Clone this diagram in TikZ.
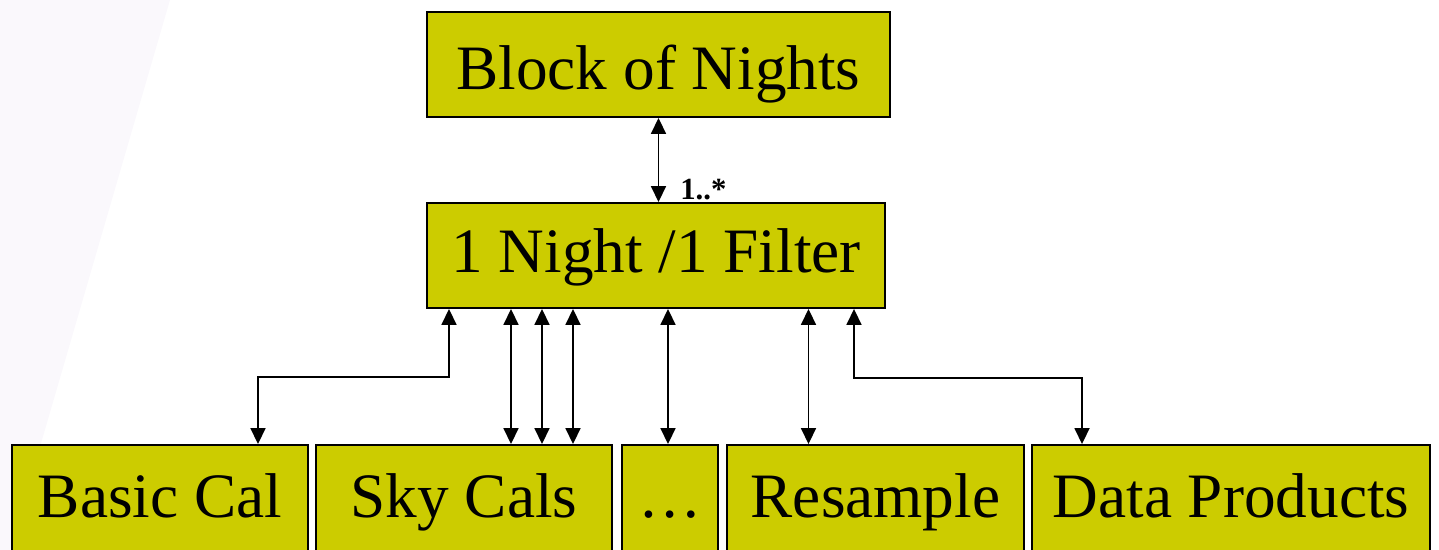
\documentclass[tikz,border=0pt]{standalone}
\usepackage{fontspec}
\setmainfont{Liberation Serif}
\usetikzlibrary{arrows.meta, positioning}
\definecolor{boxfill}{RGB}{204,204,0}
\definecolor{bgtint}{RGB}{250,248,252}
\tikzset{%
	stage/.style={
		draw,
		fill=boxfill,
		line width=1.1pt,
		minimum height=2.1cm,
		inner sep=0pt,
		text height=0.9cm,
		text depth=0.2cm,
		font=\fontsize{36}{40}\selectfont
	},
	link/.style={
		{Triangle[length=0.32cm,width=0.3cm]}-{Triangle[length=0.32cm,width=0.3cm]},
		line width=1pt
	},
}

\begin{document}
\begin{tikzpicture}[x=0.02cm, y=-0.02cm]
	\useasboundingbox (0,0) rectangle (1439,550);
	% faint backdrop
	\fill[bgtint] (0,0) -- (170,0) -- (10,550) -- (0,550) -- cycle;

	% Draw the two upper boxes
	\node[stage, minimum width=9.26cm, text height=1cm, text depth=0.01cm] (block) at (658.5,64.5) {Block of Nights};
	\node[stage, minimum width=9.16cm] (night) at (656,255.5) {1 Night /1 Filter};

	% Draw the row of steps
	\node[stage, minimum height=2.2cm, minimum width=5.92cm] (basic) at (160,500) {Basic Cal};
	\node[stage, minimum height=2.2cm, minimum width=5.92cm] (sky) at (464,500) {Sky Cals};
	\node[stage, minimum height=2.2cm, minimum width=1.92cm] (dots) at (670,500) {…};
	\node[stage, minimum height=2.2cm, minimum width=5.94cm] (resample) at (875.5,500) {Resample};
	\node[stage, minimum height=2.2cm, minimum width=7.96cm] (data) at (1231,500) {Data Products};

	% bends and drop points
	\coordinate (b1) at (449,377);
	\coordinate (b2) at (258,377);
	\coordinate (s1) at (511,0);
	\coordinate (s2) at (542,0);
	\coordinate (s3) at (573,0);
	\coordinate (d1) at (668,0);
	\coordinate (r1) at (808.5,0);
	\coordinate (p1) at (854,378);
	\coordinate (p2) at (1082,378);

	% Draw the connectors
	\draw[link] (block.south) -- (block.south |- night.north);
	\node[font=\fontsize{17.5}{20}\selectfont\bfseries, anchor=base west, inner sep=0pt] (mult) at (680,199.5) {1..*};

	\draw[link] (night.south -| b1) -- (b1) -- (b2) -- (basic.north -| b2);
	\foreach \c in {s1,s2,s3}
		\draw[link] (night.south -| \c) -- (sky.north -| \c);
	\draw[link] (night.south -| d1) -- (dots.north -| d1);
	\draw[link] (night.south -| r1) -- (resample.north -| r1);
	\draw[link] (night.south -| p1) -- (p1) -- (p2) -- (data.north -| p2);
\end{tikzpicture}
\end{document}
